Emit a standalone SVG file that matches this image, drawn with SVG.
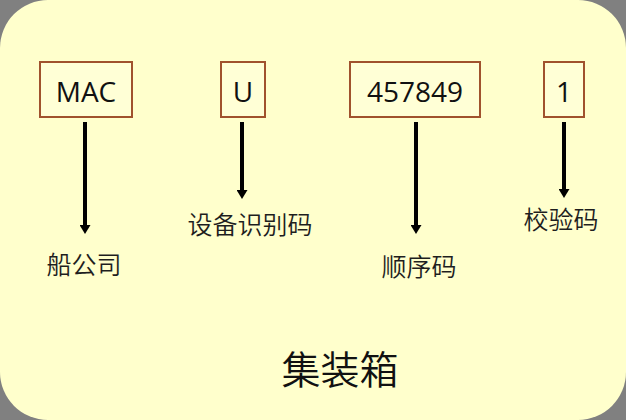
<svg xmlns="http://www.w3.org/2000/svg" width="626" height="420" viewBox="0 0 626 420">
<style>
.box{fill:#ffffd6;stroke:#a0522d;stroke-width:2}
.code{font-family:"Open Sans","Liberation Sans",sans-serif;font-size:28px;fill:#111;text-anchor:middle}
.lbl{font-family:"Noto Sans CJK SC",sans-serif;font-size:25px;font-weight:350;fill:#1e1e1e;text-anchor:middle}
.title{font-family:"Noto Sans CJK SC",sans-serif;font-size:39px;font-weight:350;fill:#111;text-anchor:middle}
.arr{stroke:#000;stroke-width:4;fill:none;marker-end:url(#ah)}
</style>
<defs>
<marker id="ah" markerUnits="userSpaceOnUse" markerWidth="9" markerHeight="11" refX="0" refY="5.5" orient="auto" viewBox="0 0 9 11">
<path d="M0,0 L9,5.5 L0,11 Z" fill="#000"/>
</marker>
</defs>
<rect width="626" height="420" fill="#808080"/>
<rect x="0" y="0" width="626" height="420" rx="48" ry="48" fill="#ffffcc"/>
<g id="connectors">
<line class="arr" x1="85" y1="122" x2="85" y2="225"/>
<line class="arr" x1="242" y1="122" x2="242" y2="190"/>
<line class="arr" x1="416" y1="122" x2="416" y2="225"/>
<line class="arr" x1="564" y1="122" x2="564" y2="189"/>
</g>
<g id="node-mac"><rect class="box" x="40" y="62" width="92" height="55"/><text class="code" x="86" y="102">MAC</text></g>
<g id="node-u"><rect class="box" x="221" y="62" width="44" height="55"/><text class="code" x="243" y="102">U</text></g>
<g id="node-serial"><rect class="box" x="350" y="62" width="130" height="55"/><text class="code" x="415" y="102">457849</text></g>
<g id="node-check"><rect class="box" x="544" y="62" width="40" height="55"/><text class="code" x="564" y="102">1</text></g>
<g id="label-owner"><text class="lbl" x="84" y="274">船公司</text></g>
<g id="label-equip"><text class="lbl" x="250" y="234">设备识别码</text></g>
<g id="label-seq"><text class="lbl" x="419" y="276">顺序码</text></g>
<g id="label-check"><text class="lbl" x="561" y="229">校验码</text></g>
<g id="title"><text class="title" x="340" y="384">集装箱</text></g>
</svg>
